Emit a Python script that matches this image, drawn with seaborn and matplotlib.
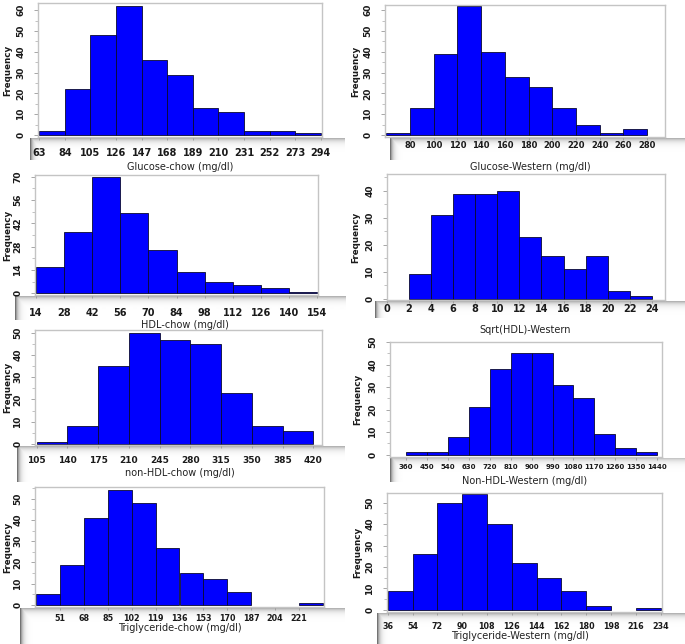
import numpy as np
import pandas as pd
import matplotlib.pyplot as plt
import seaborn as sns
from matplotlib.ticker import MultipleLocator

sns.set_style('white')
plt.rcParams['font.family'] = ['DejaVu Sans']

# bin edges and counts
glucose_chow_edges = [63, 84, 105, 126, 147, 168, 189, 210, 231, 252, 273, 294]
glucose_chow_counts = [2, 22, 48, 62, 36, 29, 13, 11, 2, 2, 1]
glucose_chow_ticks = [63, 84, 105, 126, 147, 168, 189, 210, 231, 252, 273, 294]

glucose_west_edges = [60, 80, 100, 120, 140, 160, 180, 200, 220, 240, 260, 280]
glucose_west_counts = [1, 13, 39, 62, 40, 28, 23, 13, 5, 1, 3]
glucose_west_ticks = [80, 100, 120, 140, 160, 180, 200, 220, 240, 260, 280]

hdl_chow_edges = [14, 28, 42, 56, 70, 84, 98, 112, 126, 140, 154]
hdl_chow_counts = [16, 37, 70, 48, 26, 13, 7, 5, 3, 1]
hdl_chow_ticks = [14, 28, 42, 56, 70, 84, 98, 112, 126, 140, 154]

sqrt_hdl_edges = [2, 4, 6, 8, 10, 12, 14, 16, 18, 20, 22, 24]
sqrt_hdl_counts = [9, 31, 39, 39, 40, 23, 16, 11, 16, 3, 1]
sqrt_hdl_ticks = [0, 2, 4, 6, 8, 10, 12, 14, 16, 18, 20, 22, 24]

nonhdl_chow_edges = [105, 140, 175, 210, 245, 280, 315, 350, 385, 420]
nonhdl_chow_counts = [1, 8, 35, 50, 47, 45, 23, 8, 6]
nonhdl_chow_ticks = [105, 140, 175, 210, 245, 280, 315, 350, 385, 420]

nonhdl_west_edges = [360, 450, 540, 630, 720, 810, 900, 990, 1080, 1170, 1260, 1350, 1440]
nonhdl_west_counts = [1, 1, 8, 21, 38, 45, 45, 31, 25, 9, 3, 1]
nonhdl_west_ticks = [360, 450, 540, 630, 720, 810, 900, 990, 1080, 1170, 1260, 1350, 1440]

trig_chow_edges = [34, 51, 68, 85, 102, 119, 136, 153, 170, 187, 204, 221, 238]
trig_chow_counts = [5, 19, 41, 54, 48, 27, 15, 12, 6, 0, 0, 1]
trig_chow_ticks = [51, 68, 85, 102, 119, 136, 153, 170, 187, 204, 221]

trig_west_edges = [36, 54, 72, 90, 108, 126, 144, 162, 180, 198, 216, 234]
trig_west_counts = [9, 26, 50, 54, 40, 22, 15, 9, 2, 0, 1]
trig_west_ticks = [36, 54, 72, 90, 108, 126, 144, 162, 180, 198, 216, 234]

W, H = 685, 644
fig = plt.figure(figsize=(W / 100, H / 100), dpi=100)


def rect(x1, y1, x2, y2):
    return [x1 / W, 1 - y2 / H, (x2 - x1) / W, (y2 - y1) / H]


panels = [
    dict(edges=glucose_chow_edges, counts=glucose_chow_counts, ticks=glucose_chow_ticks,
         label='Glucose-chow (mg/dl)', box=(38, 3, 322, 137), xlim=(62, 295), ylim=(-1, 63.5),
         ystep=10, band=(30, 138, 345, 160), xl=(180, 167), fy=8, pad=5.5, fs=7),
    dict(edges=glucose_west_edges, counts=glucose_west_counts, ticks=glucose_west_ticks,
         label='Glucose-Western (mg/dl)', box=(385, 5, 665, 137), xlim=(59, 295), ylim=(-1, 62.5),
         ystep=10, band=(390, 138, 685, 160), xl=(530, 167), fy=356, pad=0.5, fs=6),
    dict(edges=hdl_chow_edges, counts=hdl_chow_counts, ticks=hdl_chow_ticks,
         label='HDL-chow (mg/dl)', box=(35, 175, 318, 295), xlim=(13.5, 154.5), ylim=(-1, 71),
         ystep=14, band=(15, 296, 345, 320), xl=(185, 325), fy=8, pad=7.5, fs=7),
    dict(edges=sqrt_hdl_edges, counts=sqrt_hdl_counts, ticks=sqrt_hdl_ticks,
         label='Sqrt(HDL)-Western', box=(387, 174, 665, 300), xlim=(0, 25.2), ylim=(-0.5, 46.3),
         ystep=10, band=(375, 301, 685, 318), xl=(525, 330), fy=356, pad=0.5, fs=7),
    dict(edges=nonhdl_chow_edges, counts=nonhdl_chow_counts, ticks=nonhdl_chow_ticks,
         label='non-HDL-chow (mg/dl)', box=(35, 330, 322, 445), xlim=(103, 430), ylim=(-0.5, 51.3),
         ystep=10, band=(17, 446, 345, 482), xl=(180, 473), fy=8, pad=5.5, fs=6.5),
    dict(edges=nonhdl_west_edges, counts=nonhdl_west_counts, ticks=nonhdl_west_ticks,
         label='Non-HDL-Western (mg/dl)', box=(390, 342, 662, 457), xlim=(291, 1461), ylim=(-1, 50),
         ystep=10, band=(390, 458, 685, 482), xl=(525, 481), fy=358, pad=3, fs=5),
    dict(edges=trig_chow_edges, counts=trig_chow_counts, ticks=trig_chow_ticks,
         label='Triglyceride-chow (mg/dl)', box=(35, 487, 324, 607), xlim=(33, 239), ylim=(-1, 55.5),
         ystep=10, band=(20, 608, 345, 644), xl=(180, 628), fy=8, pad=2.5, fs=5.8),
    dict(edges=trig_west_edges, counts=trig_west_counts, ticks=trig_west_ticks,
         label='Triglyceride-Western (mg/dl)', box=(387, 493, 662, 612), xlim=(35.5, 235), ylim=(-1, 54.5),
         ystep=10, band=(377, 613, 685, 644), xl=(520, 636), fy=358, pad=5, fs=5.8),
]

for p in panels:
    # grey shaded strip under each x axis
    bx1, by1, bx2, by2 = p['band']
    bh, bw = by2 - by1, bx2 - bx1
    yy = np.arange(bh)[:, None]
    xx = np.arange(bw)[None, :]
    shade = np.minimum(1 - 0.30 * np.exp(-yy / 3.0), 1 - 0.55 * np.exp(-xx / 2.5))
    band = fig.add_axes(rect(*p['band']), zorder=0)
    band.imshow(shade, cmap='gray', vmin=0, vmax=1, aspect='auto', interpolation='bilinear')
    band.axis('off')

    ax = fig.add_axes(rect(*p['box']), zorder=1)
    edges = p['edges']
    centers = [(a + b) / 2 for a, b in zip(edges[:-1], edges[1:])]
    df = pd.DataFrame({'value': centers, 'count': p['counts']})
    sns.histplot(data=df, x='value', weights='count', bins=edges, ax=ax, color='#0000ff',
                 alpha=1, edgecolor='#0a0a30', linewidth=0.6)
    for patch in ax.patches:
        if patch.get_height() == 0:
            patch.set_visible(False)

    ax.set_xlim(*p['xlim'])
    ax.set_ylim(*p['ylim'])
    ax.set_xticks(p['ticks'])
    ax.yaxis.set_major_locator(MultipleLocator(p['ystep']))
    ax.yaxis.set_minor_locator(MultipleLocator(p['ystep'] / 2))
    ax.set_xlabel('')
    ax.set_ylabel('')
    ax.tick_params(axis='x', length=2.2, width=0.6, color='#999999', pad=p['pad'],
                   labelsize=p['fs'], labelcolor='#1a1a1a', bottom=True)
    ax.tick_params(axis='y', which='major', length=3, width=0.6, color='#999999', pad=6,
                   labelsize=6.5, labelcolor='#1a1a1a', left=True, labelrotation=90)
    ax.tick_params(axis='y', which='minor', length=2, width=0.5, color='#aaaaaa', left=True)
    for lab in ax.get_xticklabels() + ax.get_yticklabels():
        lab.set_fontweight('bold')
    for lab in ax.get_yticklabels():
        lab.set_va('center')
    for s in ax.spines.values():
        s.set_color('#c4c4c4')
        s.set_linewidth(1.0)

    x1, y1, x2, y2 = p['box']
    fig.text(p['fy'] / W, 1 - ((y1 + y2) / 2) / H, 'Frequency', rotation=90,
             ha='center', va='center', fontsize=6.3, fontweight='bold', color='#1a1a1a')
    fig.text(p['xl'][0] / W, 1 - p['xl'][1] / H, p['label'], ha='center', va='center',
             fontsize=7, color='#222222')

fig.savefig('out.png', dpi=100)
